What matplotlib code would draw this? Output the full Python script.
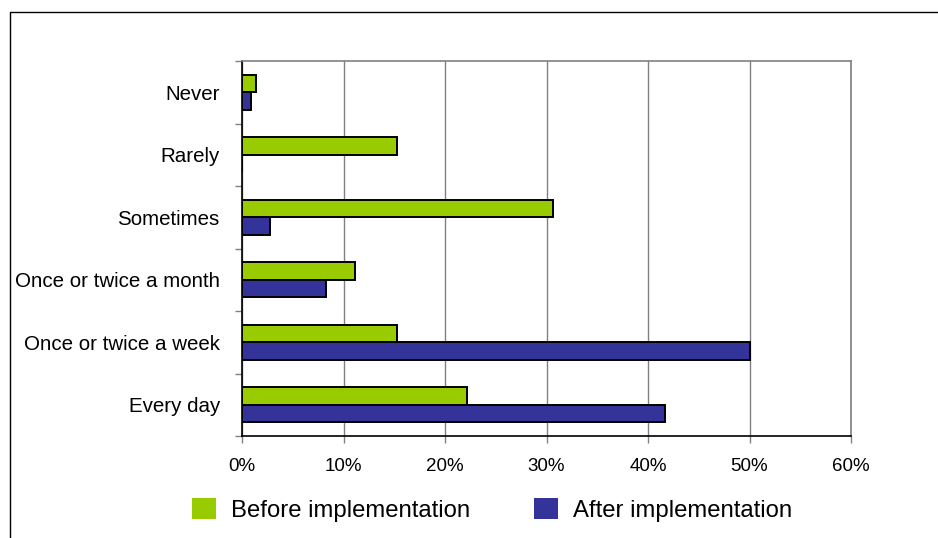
import matplotlib
matplotlib.use("Agg")
import matplotlib.pyplot as plt
from matplotlib.patches import Patch
from matplotlib.lines import Line2D
from matplotlib.ticker import FixedLocator, PercentFormatter
import numpy as np

plt.rcParams['font.family'] = ['Liberation Sans', 'DejaVu Sans']

categories = ["Never", "Rarely", "Sometimes", "Once or twice a month",
              "Once or twice a week", "Every day"]
before = [1.4, 15.3, 30.6, 11.1, 15.3, 22.2]
after = [0.9, 0.0, 2.8, 8.3, 50.0, 41.7]
series_names = ["Before implementation", "After implementation"]
x_ticks = [0, 10, 20, 30, 40, 50, 60]

green = "#99CC00"
blue = "#333399"

W, H = 938, 538
fig = plt.figure(figsize=(W / 100, H / 100), dpi=100)
ax = fig.add_axes([242 / W, 1 - 436 / H, (851 - 242) / W, (436 - 61) / H])

y = np.arange(len(categories))
h = 0.28
ax.barh(y - h / 2, before, height=h, color=green, edgecolor="black",
        linewidth=1.4, zorder=3)
ax.barh(y + h / 2, after, height=h, color=blue, edgecolor="black",
        linewidth=1.4, zorder=3)

ax.set_xlim(0, 60)
ax.set_ylim(len(categories) - 0.5, -0.5)

ax.xaxis.set_major_locator(FixedLocator(x_ticks))
ax.xaxis.set_major_formatter(PercentFormatter(decimals=0))
ax.grid(axis="x", color="#808080", linewidth=1.0, zorder=0)

ax.set_yticks(y)
ax.set_yticklabels(categories)
ax.yaxis.set_minor_locator(FixedLocator(np.arange(-0.5, len(categories), 1.0)))
ax.tick_params(axis="y", which="major", length=0, pad=16, labelsize=14.8)
ax.tick_params(axis="y", which="minor", length=5, width=1.0, color="#808080")
ax.tick_params(axis="x", which="major", length=5, width=1.0, color="#808080",
               pad=11, labelsize=13.5)

for side in ("top", "right"):
    ax.spines[side].set_color("#808080")
    ax.spines[side].set_linewidth(1.2)
for side in ("left", "bottom"):
    ax.spines[side].set_color("black")
    ax.spines[side].set_linewidth(1.2)

# chart-area border (open on the right and bottom)
fig.add_artist(Line2D([10 / W, 10 / W, 1.0], [0.0, 1 - 12 / H, 1 - 12 / H],
                      transform=fig.transFigure, color="black", linewidth=1.0))

handles = [Patch(facecolor=green, edgecolor="none"),
           Patch(facecolor=blue, edgecolor="none")]
fig.legend(handles, series_names, loc="center", ncol=2,
           bbox_to_anchor=(492 / W, 1 - 510 / H), frameon=False,
           fontsize=17.2, handlelength=1.0, handleheight=1.0,
           handletextpad=0.63, columnspacing=2.68, borderpad=0)

fig.savefig("out.png", dpi=100)
